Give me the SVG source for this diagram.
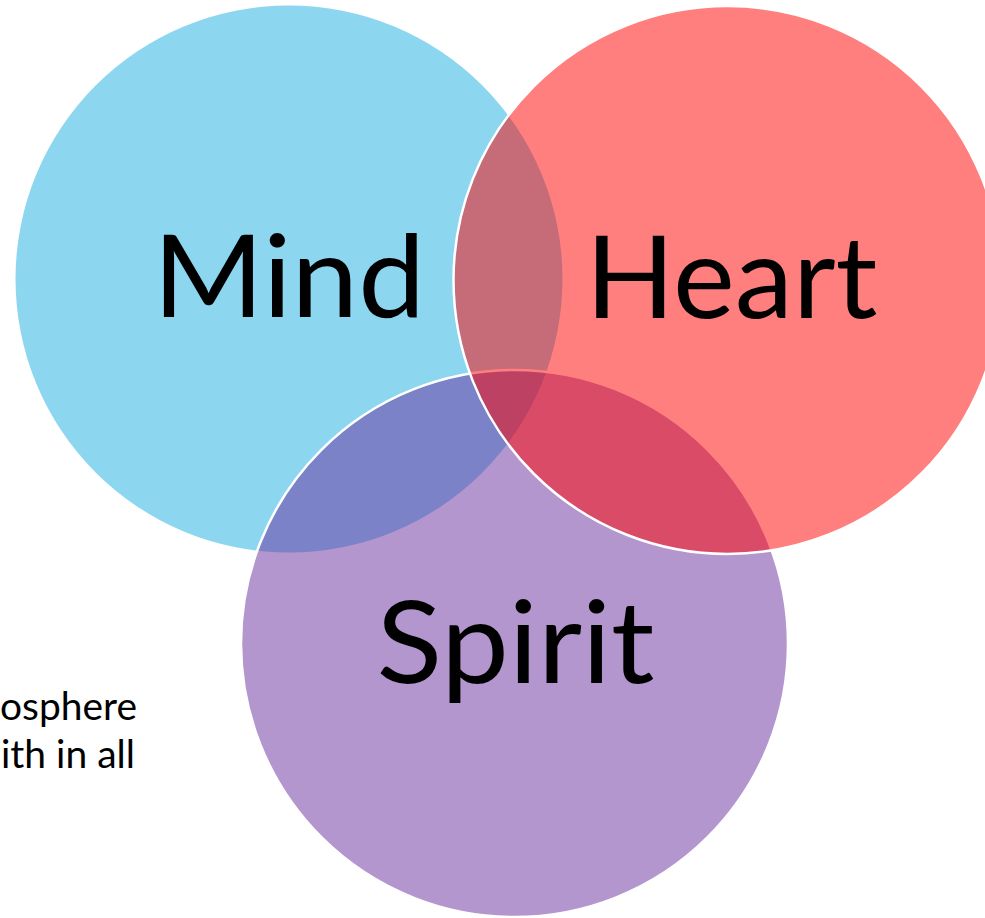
<svg xmlns="http://www.w3.org/2000/svg" width="985" height="918" viewBox="0 0 985 918">
  <style>
    .big { font-family: Lato, "Open Sans", "Liberation Sans", sans-serif; font-size: 115px; fill: #000; text-anchor: middle; }
    .small { font-family: Lato, "Open Sans", "Liberation Sans", sans-serif; font-size: 39px; fill: #000; }
    .edge { stroke: #ffffff; stroke-width: 2.5; }
  </style>
  <rect width="985" height="918" fill="#ffffff"/>
  <g id="background-text">
    <text class="small" x="0" y="720" textLength="137" lengthAdjust="spacingAndGlyphs">osphere</text>
    <text class="small" x="1" y="768" textLength="134" lengthAdjust="spacingAndGlyphs">ith in all</text>
  </g>
  <g id="mind">
    <circle cx="289" cy="279" r="273.5" fill="#8DD6F0"/>
  </g>
  <g id="spirit">
    <circle class="edge" cx="514.5" cy="643.5" r="273.5" fill="#692D9D" fill-opacity="0.5"/>
  </g>
  <g id="heart">
    <circle class="edge" cx="727.5" cy="280" r="274" fill="#FF0000" fill-opacity="0.5"/>
  </g>
  <g id="labels">
    <text class="big" x="289" y="317" textLength="272" lengthAdjust="spacingAndGlyphs">Mind</text>
    <text class="big" x="731.5" y="318" textLength="292" lengthAdjust="spacingAndGlyphs">Heart</text>
    <text class="big" x="515.5" y="683" textLength="278" lengthAdjust="spacingAndGlyphs">Spirit</text>
  </g>
  <g id="connectors"></g>
</svg>
